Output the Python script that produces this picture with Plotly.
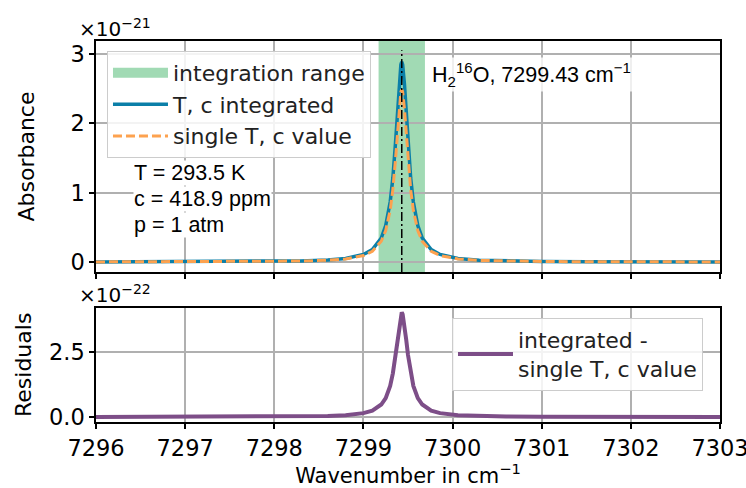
import plotly.graph_objects as go

# ---- data ----
wavenumber = [7296.0, 7296.5, 7297.0, 7297.5, 7298.0, 7298.3, 7298.6, 7298.8, 7299.0, 7299.1,
              7299.2, 7299.25, 7299.3, 7299.33, 7299.36, 7299.38, 7299.4, 7299.42, 7299.43,
              7299.44, 7299.46, 7299.48, 7299.5, 7299.53, 7299.56, 7299.61, 7299.66, 7299.76,
              7299.86, 7300.06, 7300.3, 7300.6, 7301.0, 7301.5, 7302.0, 7302.5, 7303.0]

# absorbance in units of 1e-21
absorbance_integrated = [0.00177, 0.00243, 0.00353, 0.00560, 0.0102, 0.0163, 0.0300, 0.0517, 0.109, 0.180,
                         0.347, 0.527, 0.866, 1.212, 1.722, 2.147, 2.570, 2.850, 2.89,
                         2.850, 2.570, 2.147, 1.722, 1.212, 0.866, 0.527, 0.347, 0.180,
                         0.109, 0.0517, 0.0273, 0.0152, 0.00844, 0.00486, 0.00315, 0.00221, 0.00164]
absorbance_single = [0.00153, 0.00209, 0.00304, 0.00482, 0.00877, 0.0140, 0.0258, 0.0445, 0.0936, 0.155,
                     0.299, 0.454, 0.746, 1.045, 1.484, 1.850, 2.214, 2.456, 2.49,
                     2.456, 2.214, 1.850, 1.484, 1.045, 0.746, 0.454, 0.299, 0.155,
                     0.0936, 0.0445, 0.0235, 0.0131, 0.00727, 0.00418, 0.00271, 0.00191, 0.00141]
# residuals in units of 1e-22
residuals = [0.00246, 0.00336, 0.00489, 0.00774, 0.0141, 0.0225, 0.0415, 0.0715, 0.150, 0.249,
             0.481, 0.729, 1.198, 1.678, 2.384, 2.972, 3.557, 3.945, 4.02,
             3.945, 3.557, 2.972, 2.384, 1.678, 1.198, 0.729, 0.481, 0.249,
             0.150, 0.0715, 0.0378, 0.0210, 0.0117, 0.00672, 0.00436, 0.00306, 0.00226]

integration_range = [7299.17, 7299.69]
line_center = 7299.43
x_ticks = [7296, 7297, 7298, 7299, 7300, 7301, 7302, 7303]
top_ticks = [0, 1, 2, 3]
bottom_ticks = [0.0, 2.5]
bottom_tick_text = ["0.0", "2.5"]
info_lines = ["T = 293.5 K", "c = 418.9 ppm", "p = 1 atm"]

BLUE = "#0b7fa8"
ORANGE = "#fda24f"
GREEN = "#a1dab4"
PURPLE = "#7d4e88"
GRID = "#b0b0b0"
DV = "DejaVu Sans"
AR = "Liberation Sans"

fig = go.Figure()

# legend-only entry standing for the integration-range band
fig.add_trace(go.Scatter(x=[None], y=[None], mode="lines", line=dict(color=GREEN, width=16),
                         name="integration range", xaxis="x2", yaxis="y2", legend="legend",
                         legendgroup="g1", legendrank=1, hoverinfo="skip"))
fig.add_trace(go.Scatter(x=wavenumber, y=absorbance_integrated, mode="lines",
                         line=dict(color=BLUE, width=3.5), name="T, c integrated",
                         xaxis="x2", yaxis="y2", legend="legend", legendgroup="g2", legendrank=2))
fig.add_trace(go.Scatter(x=wavenumber, y=absorbance_single, mode="lines",
                         line=dict(color=ORANGE, width=3, dash="9px,4px"), name="single T, c value",
                         xaxis="x2", yaxis="y2", legend="legend", legendgroup="g3", legendrank=3))
fig.add_trace(go.Scatter(x=wavenumber, y=residuals, mode="lines",
                         line=dict(color=PURPLE, width=4), name="integrated -<br>single T, c value",
                         xaxis="x", yaxis="y", legend="legend2"))

fig.add_shape(type="rect", xref="x2", yref="y2 domain", x0=integration_range[0], x1=integration_range[1],
              y0=0, y1=1, fillcolor=GREEN, line=dict(width=0), layer="below")
fig.add_shape(type="line", xref="x2", yref="y2 domain", x0=line_center, x1=line_center,
              y0=0, y1=0.96, line=dict(color="black", width=1.5, dash="9px,3px,2px,3px"))

axis_common = dict(showline=True, linecolor="black", linewidth=1.5, mirror=True,
                   ticks="outside", ticklen=5, tickwidth=1.5, tickcolor="black",
                   showgrid=True, gridcolor=GRID, gridwidth=1.5, zeroline=False,
                   ticklabeloverflow="allow", automargin=False,
                   tickfont=dict(family=DV, size=22.5, color="black"))

fig.update_layout(
    width=746, height=488,
    margin=dict(l=96, r=26, t=41, b=66),
    paper_bgcolor="white", plot_bgcolor="white",
    xaxis=dict(domain=[0, 1], range=[7296, 7303], tickvals=x_ticks, anchor="y",
               title=dict(text="Wavenumber in cm<sup>−1</sup>", font=dict(family=DV, size=21, color="black"),
                          standoff=13),
               **axis_common),
    yaxis=dict(domain=[0, 0.300], range=[-0.19, 4.2], tickvals=bottom_ticks, ticktext=bottom_tick_text,
               anchor="x",
               title=dict(text="Residuals", font=dict(family=DV, size=22, color="black"), standoff=11),
               **axis_common),
    xaxis2=dict(domain=[0, 1], range=[7296, 7303], tickvals=x_ticks, matches="x", anchor="y2",
                showticklabels=False, **axis_common),
    yaxis2=dict(domain=[0.3937, 1], range=[-0.144, 3.19], tickvals=top_ticks, anchor="x2",
                title=dict(text="Absorbance", font=dict(family=DV, size=22, color="black"), standoff=30),
                **axis_common),
    legend=dict(x=0.0176, y=0.974, xanchor="left", yanchor="top",
                bgcolor="rgba(255,255,255,0.85)", bordercolor="#cccccc", borderwidth=1,
                font=dict(family=DV, size=22, color="#222"), itemwidth=55,
                tracegroupgap=0),
    legend2=dict(x=0.5705, y=0.273, xanchor="left", yanchor="top",
                 bgcolor="rgba(255,255,255,0.85)", bordercolor="#cccccc", borderwidth=1,
                 font=dict(family=DV, size=22, color="#222"), itemwidth=55),
    showlegend=True,
)

for i, line in enumerate(info_lines):
    fig.add_annotation(text=line, xref="x2 domain", yref="y2 domain",
                       x=0.059, y=(272 - (173 + 26 * i)) / 231, xanchor="left", yanchor="middle",
                       align="left", showarrow=False, font=dict(family=AR, size=21.5, color="black"),
                       bgcolor="white", borderpad=0)
fig.add_annotation(text="H<sub>2</sub><sup>16</sup>O, 7299.43 cm<sup>−1</sup>", xref="x2 domain", yref="y2 domain",
                   x=(430 - 96) / 624, y=(272 - 74) / 231, xanchor="left", yanchor="middle",
                   showarrow=False, font=dict(family=AR, size=21.5, color="black"), bgcolor="rgba(255,255,255,0.8)")
fig.add_annotation(text="×10<sup>−21</sup>", xref="paper", yref="paper", x=(77 - 96) / 624, y=(422 - 28) / 381,
                   xanchor="left", yanchor="middle", showarrow=False, font=dict(family=DV, size=20, color="black"))
fig.add_annotation(text="×10<sup>−22</sup>", xref="paper", yref="paper", x=(77 - 96) / 624, y=(422 - 294) / 381,
                   xanchor="left", yanchor="middle", showarrow=False, font=dict(family=DV, size=20, color="black"))

fig.write_html("out.html")
